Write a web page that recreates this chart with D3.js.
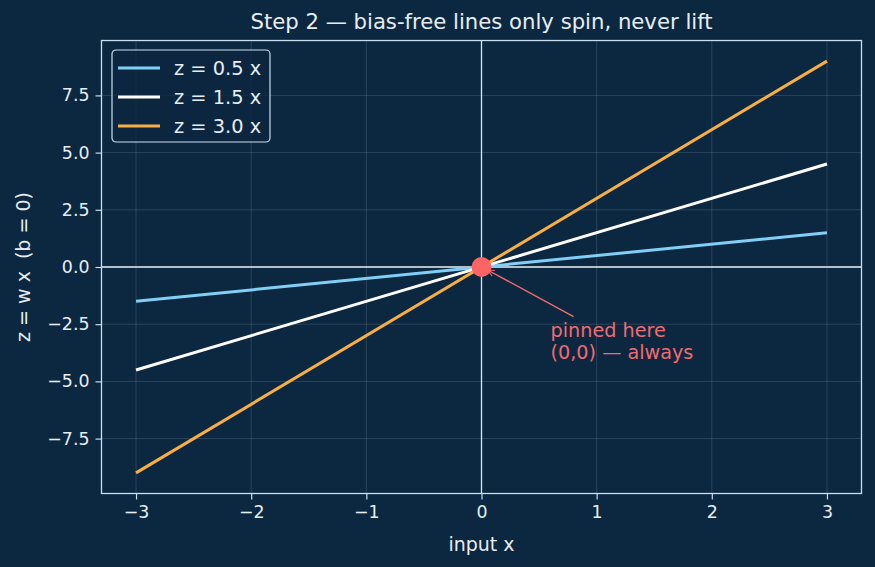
<!DOCTYPE html>
<html>
<head>
<meta charset="utf-8">
<script src="https://cdn.jsdelivr.net/npm/d3@7"></script>
<style>
  html, body { margin: 0; padding: 0; background: #0c2740; }
  svg { display: block; font-family: "DejaVu Sans", sans-serif; }
  text { white-space: pre; }
</style>
</head>
<body>
<svg id="chart" width="875" height="567"></svg>
<script>
// ---- data ----
const xValues = [-3, 3];
const weights = [0.5, 1.5, 3.0];
const seriesLabels = ["z = 0.5 x", "z = 1.5 x", "z = 3.0 x"];
const seriesColors = ["#7fcff7", "#ffffff", "#f7ae45"];
const xTicks = [-3, -2, -1, 0, 1, 2, 3];
const yTicks = [-7.5, -5.0, -2.5, 0.0, 2.5, 5.0, 7.5];
const pinPoint = [0, 0];
const annotationPos = [0.6, -4.0];
const annotationLines = ["pinned here", "(0,0) \u2014 always"];
const titleText = "Step 2 \u2014 bias-free lines only spin, never lift";
const xLabel = "input x";
const yLabel = "z = w x  (b = 0)";

// ---- layout ----
const W = 875, H = 567;
const plot = { left: 101.5, right: 861.5, top: 40.5, bottom: 493.5 };
const bg = "#0c2740";
const fg = "#e6eef5";
const spine = "#c9deee";

const svg = d3.select("#chart");
svg.append("rect").attr("width", W).attr("height", H).attr("fill", bg);

const x = d3.scaleLinear().domain([-3.3, 3.3]).range([plot.left, plot.right]);
const y = d3.scaleLinear().domain([-9.9, 9.9]).range([plot.bottom, plot.top]);

// grid
const grid = svg.append("g");
grid.selectAll("line.gx").data(xTicks).join("line")
  .attr("x1", d => x(d)).attr("x2", d => x(d))
  .attr("y1", plot.top).attr("y2", plot.bottom)
  .attr("stroke", "#cfe0ee").attr("stroke-opacity", 0.2).attr("stroke-width", 0.8);
grid.selectAll("line.gy").data(yTicks).join("line")
  .attr("y1", d => y(d)).attr("y2", d => y(d))
  .attr("x1", plot.left).attr("x2", plot.right)
  .attr("stroke", "#cfe0ee").attr("stroke-opacity", 0.2).attr("stroke-width", 0.8);

// zero lines
svg.append("line").attr("x1", plot.left).attr("x2", plot.right)
  .attr("y1", y(0)).attr("y2", y(0))
  .attr("stroke", "#e8eef4").attr("stroke-width", 1.3);
svg.append("line").attr("y1", plot.top).attr("y2", plot.bottom)
  .attr("x1", x(0)).attr("x2", x(0))
  .attr("stroke", "#d6e8f6").attr("stroke-width", 1.3);

// lines
const lineGen = d3.line().x(d => x(d[0])).y(d => y(d[1]));
weights.forEach((w, i) => {
  svg.append("path")
    .datum(xValues.map(v => [v, w * v]))
    .attr("d", lineGen)
    .attr("fill", "none")
    .attr("stroke", seriesColors[i])
    .attr("stroke-width", 3);
});

// annotation arrow
const tx = x(annotationPos[0]), ty = y(annotationPos[1]);
const px = x(pinPoint[0]), py = y(pinPoint[1]);
const defs = svg.append("defs");
defs.append("marker").attr("id", "arr").attr("viewBox", "0 0 10 10")
  .attr("refX", 9).attr("refY", 5).attr("markerWidth", 8).attr("markerHeight", 8)
  .attr("markerUnits", "userSpaceOnUse").attr("orient", "auto")
  .append("path").attr("d", "M0,1 L9,5 L0,9").attr("fill", "none")
  .attr("stroke", "#f26b70").attr("stroke-width", 1.3);
svg.append("line")
  .attr("x1", tx + 23).attr("y1", ty - 42)
  .attr("x2", px + 6).attr("y2", py + 3)
  .attr("stroke", "#f26b70").attr("stroke-width", 1.4)
  .attr("marker-end", "url(#arr)");

// pin dot
svg.append("circle").attr("cx", px).attr("cy", py).attr("r", 10)
  .attr("fill", "#ff6464");

// annotation text
const at = svg.append("text").attr("x", tx).attr("y", ty)
  .attr("fill", "#f26b70").attr("font-size", 19.2);
annotationLines.forEach((t, i) => {
  at.append("tspan").attr("x", tx).attr("y", ty - (annotationLines.length - 1 - i) * 22).text(t);
});

// spines
svg.append("rect").attr("x", plot.left).attr("y", plot.top)
  .attr("width", plot.right - plot.left).attr("height", plot.bottom - plot.top)
  .attr("fill", "none").attr("stroke", spine).attr("stroke-width", 1.3);

// axes
const fmtX = d => d3.format("")(d).replace("-", "\u2212");
const fmtY = d => d3.format(".1f")(d).replace("-", "\u2212");
const xAxis = svg.append("g").attr("transform", `translate(0,${plot.bottom})`)
  .call(d3.axisBottom(x).tickValues(xTicks).tickFormat(fmtX).tickSize(6).tickPadding(6));
const yAxis = svg.append("g").attr("transform", `translate(${plot.left},0)`)
  .call(d3.axisLeft(y).tickValues(yTicks).tickFormat(fmtY).tickSize(6).tickPadding(6));
[xAxis, yAxis].forEach(g => {
  g.select(".domain").remove();
  g.selectAll(".tick line").attr("stroke", spine).attr("stroke-width", 1.2);
  g.selectAll(".tick text").attr("fill", fg).attr("font-size", 17.4)
    .attr("font-family", "DejaVu Sans, sans-serif");
});

// title & labels
svg.append("text").attr("x", (plot.left + plot.right) / 2).attr("y", 29)
  .attr("text-anchor", "middle").attr("fill", fg).attr("font-size", 21.2).text(titleText);
svg.append("text").attr("x", (plot.left + plot.right) / 2).attr("y", 551)
  .attr("text-anchor", "middle").attr("fill", fg).attr("font-size", 19).text(xLabel);
svg.append("text").attr("transform", `translate(30,${(plot.top + plot.bottom) / 2}) rotate(-90)`)
  .attr("text-anchor", "middle").attr("fill", fg).attr("font-size", 19).text(yLabel);

// legend
const lg = svg.append("g").attr("transform", "translate(112,50)");
lg.append("rect").attr("width", 158).attr("height", 92).attr("rx", 4)
  .attr("fill", bg).attr("fill-opacity", 0.8).attr("stroke", spine).attr("stroke-width", 1.2);
seriesLabels.forEach((lab, i) => {
  const yy = 18 + i * 29;
  lg.append("line").attr("x1", 6).attr("x2", 48).attr("y1", yy).attr("y2", yy)
    .attr("stroke", seriesColors[i]).attr("stroke-width", 3);
  lg.append("text").attr("x", 62).attr("y", yy + 6.5).attr("fill", fg)
    .attr("font-size", 19.4).text(lab);
});
</script>
</body>
</html>
